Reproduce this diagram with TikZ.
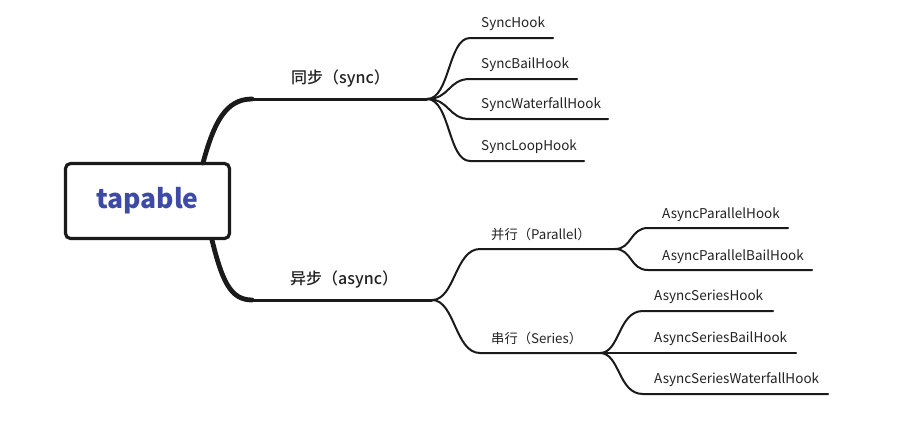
\documentclass[tikz,border=0pt]{standalone}
\usepackage{fontspec}
\setmainfont{Noto Sans CJK SC}
\newfontfamily\medfont{Noto Sans CJK SC Medium}
\definecolor{ink}{HTML}{1A1A1A}
\definecolor{txt}{HTML}{222222}
\definecolor{rootblue}{HTML}{3D4BA6}
\begin{document}
\begin{tikzpicture}[x=1pt,y=-1pt,line cap=round,
  rootbox/.style={draw=ink,line width=3.2pt,rounded corners=5pt,fill=white,
    minimum width=164pt,minimum height=75pt,inner sep=0pt,
    font=\fontsize{26.5}{29}\selectfont\bfseries,text=rootblue},
  mainlbl/.style={anchor=base west,inner sep=0pt,font=\fontsize{16}{18}\selectfont\medfont,text=txt},
  sublbl/.style={anchor=base west,inner sep=0pt,font=\fontsize{13.3}{15}\selectfont,text=txt},
  leaflbl/.style={anchor=base west,inner sep=0pt,font=\fontsize{13.5}{15}\selectfont,text=txt},
  mainline/.style={draw=ink,line width=3pt},
  mainroot/.style={draw=ink,line width=4.8pt},
  subline/.style={draw=ink,line width=2pt}]
\useasboundingbox (0,0) rectangle (923,426);
% root
\node[rootbox] (root) at (147.5,201) {tapable};
% main branches
\coordinate (sR) at (203,163);
\coordinate (sA) at (252,99);
\coordinate (sF) at (427,99);
\coordinate (aR) at (212,240);
\coordinate (aA) at (252,300);
\coordinate (aF) at (432,300);
\draw[mainroot] (sR) .. controls (214,122) and (226,99) .. (sA);
\draw[mainline] (sA) -- (sF);
\draw[mainroot] (aR) .. controls (222,280) and (230,300) .. (aA);
\draw[mainline] (aA) -- (aF);
\node[mainlbl] (sync) at (291,83) {同步（sync）};
\node[mainlbl] (async) at (290,284) {异步（async）};
% sync leaves
\foreach \n/\y/\e/\t in {s1/38/553/SyncHook, s2/79/577/SyncBailHook, s3/119/608/SyncWaterfallHook, s4/161/584/SyncLoopHook}{
  \coordinate (\n a) at (470,\y);
  \coordinate (\n b) at (\e,\y);
  \draw[subline] (sF) .. controls (450,99) and (448,\y) .. (\n a) -- (\n b);
  \node[leaflbl] (\n t) at (481,\y-11) {\t};
}
% async sub-branches
\coordinate (pA) at (480,249);
\coordinate (pF) at (615,249);
\coordinate (rA) at (480,353);
\coordinate (rF) at (600,353);
\draw[subline] (aF) .. controls (455,300) and (455,249) .. (pA) -- (pF);
\draw[subline] (aF) .. controls (455,300) and (455,353) .. (rA) -- (rF);
\node[sublbl] (par) at (491,239) {并行（Parallel）};
\node[sublbl] (ser) at (491,343) {串行（Series）};
% parallel leaves
\foreach \n/\y/\e/\t in {p1/228/788/AsyncParallelHook, p2/270/812/AsyncParallelBailHook}{
  \coordinate (\n a) at (648,\y);
  \coordinate (\n b) at (\e,\y);
  \draw[subline] (pF) .. controls (632,249) and (630,\y) .. (\n a) -- (\n b);
  \node[leaflbl] (\n t) at (662,\y-10) {\t};
}
% series leaves
\foreach \n/\y/\e/\t in {r1/311/773/AsyncSeriesHook, r2/353/796/AsyncSeriesBailHook, r3/394/828/AsyncSeriesWaterfallHook}{
  \coordinate (\n a) at (643,\y);
  \coordinate (\n b) at (\e,\y);
  \draw[subline] (rF) .. controls (620,353) and (618,\y) .. (\n a) -- (\n b);
  \node[leaflbl] (\n t) at (654,\y-11) {\t};
}
\end{tikzpicture}
\end{document}
